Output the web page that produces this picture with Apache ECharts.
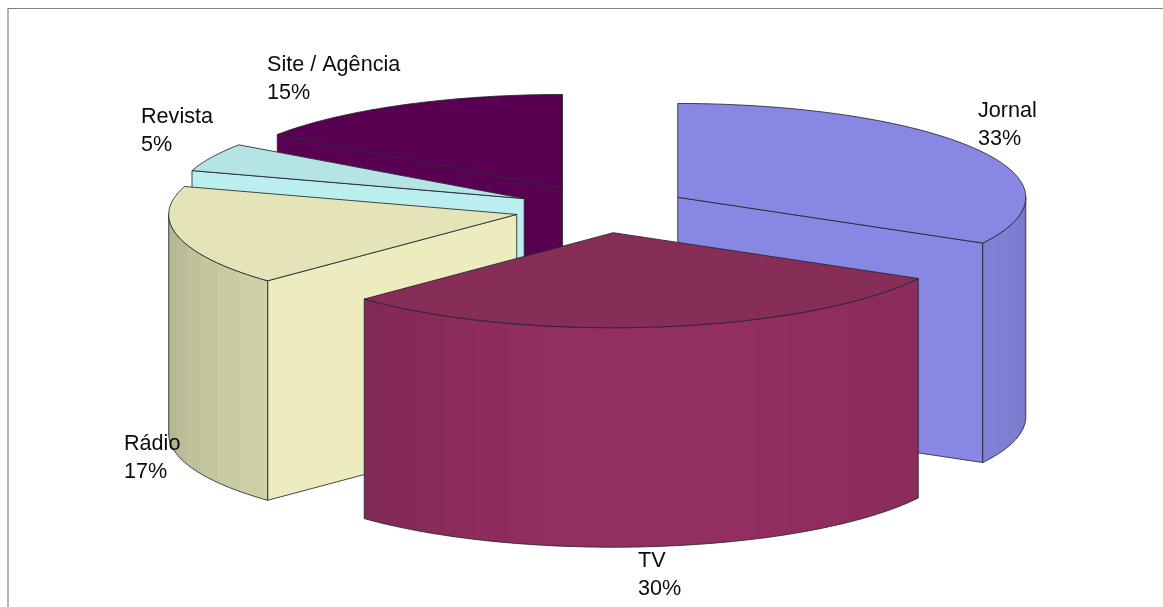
<!DOCTYPE html>
<html>
<head>
<meta charset="utf-8">
<script src="https://cdn.jsdelivr.net/npm/echarts@6/dist/echarts.min.js"></script>
<style>html,body{margin:0;padding:0;background:#fff}#c{width:1163px;height:607px}</style>
</head>
<body>
<div id="c"></div>
<script>
// data
const categories = ['Jornal', 'TV', 'Rádio', 'Revista', 'Site / Agência'];
const values = [33, 30, 17, 5, 15];
// styles
const wallColors = ['#8888E4', '#922E60', '#ECECBE', '#BBEEEE', '#5A0053'];
const topColors = ['#8888E4', '#862D58', '#E4E4B8', '#B4E4E4', '#5A0053'];
const paintOrder = [4, 3, 2, 0, 1];
// layout
const labelPos = [[978, 97], [638, 547], [124, 430], [141, 103], [267, 51]];
const pie = { cx: 602.3, cy: 209.3, rx: 348, ry: 95, ryBack: 93.8, depth: 219.5, explodeX: 87.7, explodeY: 23.6, startAngle: -90 };
const shadeStops = [[0, .88], [29, .95], [70, 1], [100, 1], [137, .89], [180, .74]];
const BAND = 6;

const rad = d => d * Math.PI / 180;
// the original 3D projection slightly bends the left half of the circle
const warp = d => Math.cos(rad(d)) < 0 ? d - 1.1 * Math.abs(Math.sin(rad(2 * d))) : d;
function shade(hex, k) {
  const n = parseInt(hex.slice(1), 16);
  const c = s => Math.round(((n >> s) & 255) * k);
  return `rgb(${c(16)},${c(8)},${c(0)})`;
}
function shadeAt(a) {
  for (let i = 1; i < shadeStops.length; i++) {
    if (a <= shadeStops[i][0]) {
      const [a0, s0] = shadeStops[i - 1], [a1, s1] = shadeStops[i];
      return s0 + (s1 - s0) * (a - a0) / (a1 - a0);
    }
  }
  return shadeStops[shadeStops.length - 1][1];
}

const total = values.reduce((s, v) => s + v, 0);
let acc = pie.startAngle;
const slices = values.map((v, i) => {
  const start = acc, end = acc + v / total * 360;
  acc = end;
  return [start, end, i];
});
const drawData = paintOrder.map(i => slices[i]);

function renderItem(params, api) {
  const a = api.value(0), b = api.value(1), idx = api.value(2);
  const mid = rad((a + b) / 2);
  const ox = pie.cx + pie.explodeX * Math.cos(mid);
  const oy = pie.cy + pie.explodeY * Math.sin(mid);
  const P = (d, z) => {
    const w = rad(warp(d)), sn = Math.sin(w);
    return [ox + pie.rx * Math.cos(w), oy + (sn < 0 ? pie.ryBack : pie.ry) * sn + (z || 0)];
  };
  const arc = (s, e, z) => {
    const pts = [], n = Math.max(2, Math.ceil(Math.abs(e - s)));
    for (let i = 0; i <= n; i++) pts.push(P(s + (e - s) * i / n, z));
    return pts;
  };
  const line = { stroke: '#26262e', lineWidth: 0.85 };
  const children = [];
  const poly = (points, fill, stroke) => children.push({
    type: 'polygon', shape: { points },
    style: Object.assign({ fill }, stroke || {})
  });

  const wall = d => poly(
    [[ox, oy], P(d), P(d, pie.depth), [ox, oy + pie.depth]],
    wallColors[idx], line
  );
  if (Math.cos(rad(a)) < -1e-6) wall(a);
  if (Math.cos(rad(b)) > 1e-6) wall(b);

  // outer rim (only the part facing the viewer), flat shaded bands as hard gradient stops
  const s0 = Math.max(a, 0), e0 = Math.min(b, 180);
  if (e0 > s0) {
    const outline = arc(s0, e0).concat(arc(e0, s0, pie.depth));
    const xs = outline.map(p => p[0]);
    const xMin = Math.min(...xs), xMax = Math.max(...xs);
    const bands = [];
    for (let d = Math.floor(s0 / BAND) * BAND; d < e0; d += BAND) {
      const s = Math.max(d, s0), e = Math.min(d + BAND, e0);
      bands.push({
        x1: (P(e)[0] - xMin) / (xMax - xMin),
        x2: (P(s)[0] - xMin) / (xMax - xMin),
        color: shade(wallColors[idx], shadeAt((s + e) / 2))
      });
    }
    bands.sort((p, q) => p.x1 - q.x1);
    const colorStops = [];
    bands.forEach(bd => {
      colorStops.push({ offset: Math.max(0, Math.min(1, bd.x1)), color: bd.color });
      colorStops.push({ offset: Math.max(0, Math.min(1, bd.x2)), color: bd.color });
    });
    poly(outline, { type: 'linear', x: 0, y: 0, x2: 1, y2: 0, colorStops }, line);
  }

  // top face
  poly([[ox, oy]].concat(arc(a, b)), topColors[idx], line);

  // label
  children.push({
    type: 'text', z2: 100,
    style: {
      x: labelPos[idx][0], y: labelPos[idx][1],
      text: categories[idx] + '\n' + values[idx] + '%',
      fill: '#0c0c0c', font: '21.6px "Liberation Sans"', lineHeight: 28,
      align: 'left', verticalAlign: 'top'
    }
  });
  return { type: 'group', children };
}

const chart = echarts.init(document.getElementById('c'), null, { renderer: 'canvas' });
chart.setOption({
  animation: false,
  backgroundColor: '#fff',
  graphic: [
    { type: 'line', shape: { x1: 8, y1: 8.5, x2: 1163, y2: 8.5 }, style: { stroke: '#808080', lineWidth: 1.2 }, silent: true },
    { type: 'line', shape: { x1: 8, y1: 8, x2: 8, y2: 607 }, style: { stroke: '#808080', lineWidth: 1.2 }, silent: true }
  ],
  series: [{
    type: 'custom',
    coordinateSystem: 'none',
    silent: true,
    renderItem,
    data: drawData
  }]
});
</script>
</body>
</html>
